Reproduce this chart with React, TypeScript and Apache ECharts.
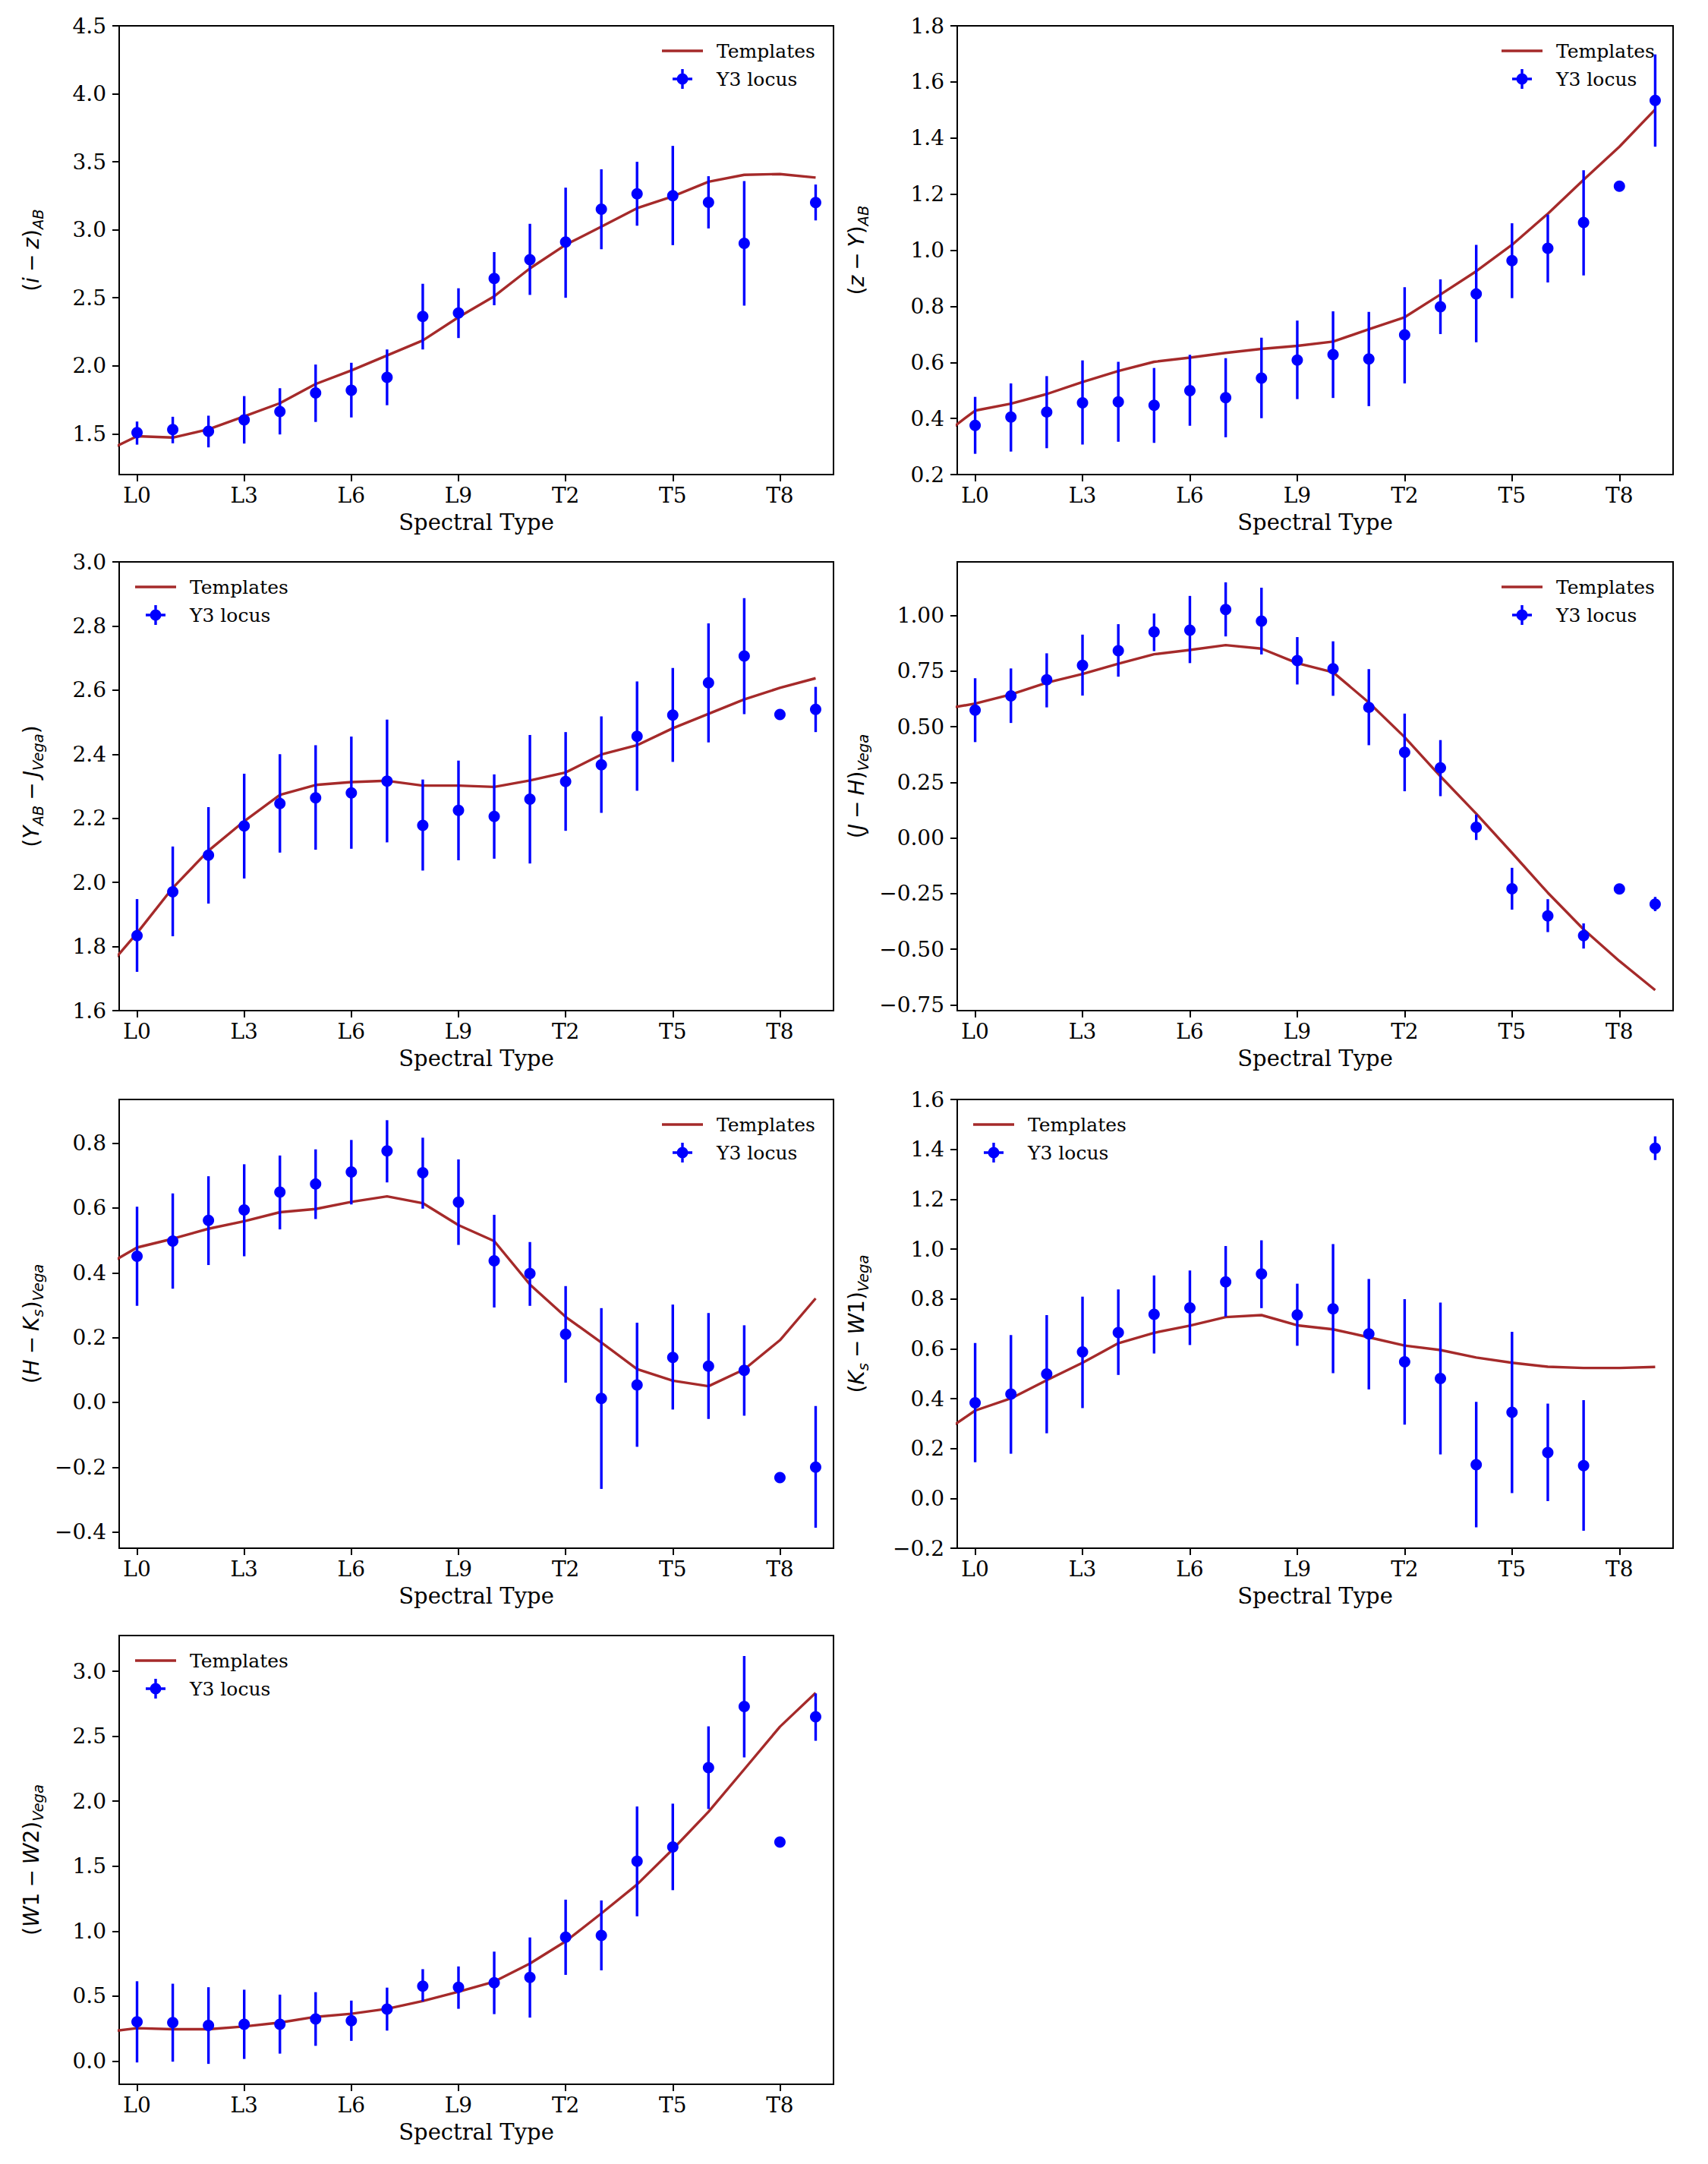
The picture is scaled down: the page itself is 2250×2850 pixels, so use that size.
import { useEffect, useRef } from 'react';
import * as echarts from 'echarts';

// ---------- categories / ticks ----------
const spectralTypes = ['L0', 'L1', 'L2', 'L3', 'L4', 'L5', 'L6', 'L7', 'L8', 'L9',
  'T0', 'T1', 'T2', 'T3', 'T4', 'T5', 'T6', 'T7', 'T8', 'T9'];
const xTickValues = [0, 3, 6, 9, 12, 15, 18];
// template sampling positions (M9 = -1 ... T9 = 19)
const templateX = [-1, 0, 1, 2, 3, 4, 5, 6, 7, 8, 9, 10, 11, 12, 13, 14, 15, 16, 17, 18, 19];

// ---------- (i - z)_AB ----------
const tplIZ = [1.355, 1.482, 1.472, 1.533, 1.628, 1.725, 1.866, 1.966, 2.076, 2.186, 2.357, 2.511, 2.716, 2.890, 3.023, 3.159, 3.246, 3.353, 3.404, 3.410, 3.384];
const locIZ = [1.508, 1.531, 1.518, 1.602, 1.664, 1.800, 1.820, 1.915, 2.363, 2.388, 2.642, 2.780, 2.910, 3.151, 3.264, 3.251, 3.202, 2.900, null, 3.200];
const hiIZ = [1.590, 1.625, 1.633, 1.777, 1.835, 2.009, 2.022, 2.120, 2.603, 2.570, 2.836, 3.044, 3.310, 3.445, 3.500, 3.617, 3.394, 3.358, null, 3.333];
const loIZ = [1.420, 1.430, 1.400, 1.428, 1.495, 1.587, 1.620, 1.710, 2.120, 2.204, 2.445, 2.521, 2.500, 2.857, 3.030, 2.887, 3.010, 2.442, null, 3.069];
const yTicksIZ = [1.5, 2.0, 2.5, 3.0, 3.5, 4.0, 4.5];

// ---------- (z - Y)_AB ----------
const tplZY = [0.332, 0.428, 0.453, 0.487, 0.530, 0.569, 0.602, 0.617, 0.634, 0.648, 0.659, 0.674, 0.718, 0.761, 0.842, 0.925, 1.019, 1.130, 1.251, 1.369, 1.502];
const locZY = [0.375, 0.405, 0.423, 0.456, 0.459, 0.447, 0.499, 0.474, 0.544, 0.608, 0.628, 0.612, 0.698, 0.798, 0.844, 0.963, 1.007, 1.099, 1.228, 1.534];
const hiZY = [0.477, 0.525, 0.551, 0.607, 0.602, 0.580, 0.627, 0.615, 0.688, 0.749, 0.782, 0.780, 0.868, 0.896, 1.019, 1.096, 1.127, 1.285, null, 1.698];
const loZY = [0.274, 0.282, 0.294, 0.307, 0.317, 0.313, 0.374, 0.333, 0.401, 0.469, 0.473, 0.444, 0.525, 0.701, 0.672, 0.829, 0.885, 0.910, null, 1.369];
const yTicksZY = [0.2, 0.4, 0.6, 0.8, 1.0, 1.2, 1.4, 1.6, 1.8];

// ---------- (Y_AB - J_Vega) ----------
const tplYJ = [1.712, 1.842, 1.983, 2.099, 2.191, 2.273, 2.304, 2.313, 2.317, 2.302, 2.302, 2.298, 2.318, 2.343, 2.399, 2.428, 2.481, 2.526, 2.571, 2.607, 2.637];
const locYJ = [1.834, 1.971, 2.085, 2.176, 2.246, 2.264, 2.279, 2.316, 2.178, 2.225, 2.206, 2.260, 2.315, 2.367, 2.456, 2.522, 2.623, 2.706, 2.524, 2.540];
const hiYJ = [1.948, 2.112, 2.235, 2.339, 2.400, 2.428, 2.455, 2.508, 2.321, 2.380, 2.337, 2.460, 2.469, 2.518, 2.627, 2.669, 2.808, 2.887, null, 2.610];
const loYJ = [1.721, 1.832, 1.934, 2.012, 2.093, 2.102, 2.105, 2.125, 2.037, 2.069, 2.074, 2.059, 2.161, 2.217, 2.286, 2.376, 2.437, 2.525, null, 2.469];
const yTicksYJ = [1.6, 1.8, 2.0, 2.2, 2.4, 2.6, 2.8, 3.0];

// ---------- (J - H)_Vega ----------
const tplJH = [0.576, 0.604, 0.645, 0.698, 0.737, 0.783, 0.826, 0.845, 0.867, 0.851, 0.786, 0.745, 0.609, 0.453, 0.277, 0.109, -0.067, -0.246, -0.411, -0.553, -0.684];
const locJH = [0.575, 0.639, 0.711, 0.776, 0.842, 0.926, 0.934, 1.027, 0.975, 0.797, 0.761, 0.587, 0.385, 0.315, 0.048, -0.228, -0.350, -0.439, -0.229, -0.297];
const hiJH = [0.718, 0.762, 0.830, 0.914, 0.961, 1.009, 1.088, 1.149, 1.125, 0.903, 0.884, 0.759, 0.559, 0.440, 0.105, -0.134, -0.275, -0.384, null, -0.265];
const loJH = [0.431, 0.517, 0.587, 0.640, 0.725, 0.840, 0.786, 0.906, 0.825, 0.690, 0.639, 0.417, 0.210, 0.188, -0.009, -0.322, -0.423, -0.497, null, -0.329];
const yTicksJH = [-0.75, -0.5, -0.25, 0.0, 0.25, 0.5, 0.75, 1.0];

// ---------- (H - Ks)_Vega ----------
const tplHK = [0.414, 0.478, 0.505, 0.536, 0.559, 0.587, 0.597, 0.619, 0.636, 0.615, 0.547, 0.498, 0.364, 0.264, 0.185, 0.103, 0.067, 0.050, 0.102, 0.192, 0.321];
const locHK = [0.451, 0.498, 0.562, 0.594, 0.649, 0.674, 0.711, 0.776, 0.709, 0.618, 0.437, 0.398, 0.210, 0.012, 0.054, 0.139, 0.112, 0.099, -0.232, -0.200];
const hiHK = [0.604, 0.645, 0.698, 0.735, 0.762, 0.781, 0.810, 0.871, 0.817, 0.750, 0.579, 0.495, 0.359, 0.291, 0.246, 0.302, 0.276, 0.238, null, -0.011];
const loHK = [0.298, 0.351, 0.424, 0.451, 0.534, 0.566, 0.611, 0.679, 0.598, 0.486, 0.293, 0.298, 0.061, -0.267, -0.137, -0.022, -0.051, -0.041, null, -0.387];
const yTicksHK = [-0.4, -0.2, 0.0, 0.2, 0.4, 0.6, 0.8];

// ---------- (Ks - W1)_Vega ----------
const tplKW = [0.254, 0.352, 0.401, 0.474, 0.544, 0.622, 0.664, 0.693, 0.727, 0.735, 0.694, 0.678, 0.646, 0.613, 0.595, 0.565, 0.544, 0.528, 0.523, 0.523, 0.527];
const locKW = [0.383, 0.418, 0.499, 0.587, 0.665, 0.738, 0.764, 0.868, 0.900, 0.736, 0.760, 0.660, 0.548, 0.481, 0.135, 0.345, 0.184, 0.131, null, 1.404];
const hiKW = [0.623, 0.655, 0.735, 0.809, 0.838, 0.894, 0.914, 1.012, 1.035, 0.861, 1.020, 0.880, 0.799, 0.785, 0.387, 0.668, 0.380, 0.394, null, 1.452];
const loKW = [0.145, 0.179, 0.261, 0.362, 0.495, 0.581, 0.615, 0.729, 0.763, 0.612, 0.502, 0.437, 0.296, 0.176, -0.116, 0.021, -0.011, -0.130, null, 1.357];
const yTicksKW = [-0.2, 0.0, 0.2, 0.4, 0.6, 0.8, 1.0, 1.2, 1.4, 1.6];

// ---------- (W1 - W2)_Vega ----------
const tplWW = [0.219, 0.253, 0.245, 0.245, 0.266, 0.296, 0.340, 0.364, 0.402, 0.462, 0.533, 0.611, 0.750, 0.921, 1.136, 1.359, 1.630, 1.918, 2.245, 2.573, 2.834];
const locWW = [0.302, 0.296, 0.274, 0.283, 0.283, 0.323, 0.310, 0.399, 0.576, 0.568, 0.603, 0.644, 0.954, 0.967, 1.538, 1.647, 2.258, 2.728, 1.685, 2.649];
const hiWW = [0.614, 0.595, 0.568, 0.549, 0.511, 0.530, 0.465, 0.565, 0.707, 0.728, 0.842, 0.951, 1.242, 1.236, 1.959, 1.981, 2.576, 3.117, null, 2.829];
const loWW = [-0.011, -0.005, -0.022, 0.016, 0.057, 0.117, 0.155, 0.234, 0.459, 0.402, 0.361, 0.334, 0.663, 0.698, 1.114, 1.315, 1.940, 2.337, null, 2.465];
const yTicksWW = [0.0, 0.5, 1.0, 1.5, 2.0, 2.5, 3.0];

type Panel = {
  label: string;
  tpl: number[];
  loc: (number | null)[];
  lo: (number | null)[];
  hi: (number | null)[];
  ticks: number[];
  min: number;
  max: number;
  dec: number;
  legendLeftSide: boolean;
};

const M = '\u2005\u2212\u2005'; // math minus with medium spaces

const panels: Panel[] = [
  { label: `{u|(}{i|i}{u|${M}}{i|z}{u|)}{s|AB}`, tpl: tplIZ, loc: locIZ, lo: loIZ, hi: hiIZ, ticks: yTicksIZ, min: 1.2, max: 4.5, dec: 1, legendLeftSide: false },
  { label: `{u|(}{i|z}{u|${M}}{i|Y}{u|)}{s|AB}`, tpl: tplZY, loc: locZY, lo: loZY, hi: hiZY, ticks: yTicksZY, min: 0.2, max: 1.8, dec: 1, legendLeftSide: false },
  { label: `{u|(}{i|Y}{s|AB}{u|${M}}{i|J}{s|Vega}{u|)}`, tpl: tplYJ, loc: locYJ, lo: loYJ, hi: hiYJ, ticks: yTicksYJ, min: 1.6, max: 3.0, dec: 1, legendLeftSide: true },
  { label: `{u|(}{i|J}{u|${M}}{i|H}{u|)}{s|Vega}`, tpl: tplJH, loc: locJH, lo: loJH, hi: hiJH, ticks: yTicksJH, min: -0.776, max: 1.241, dec: 2, legendLeftSide: false },
  { label: `{u|(}{i|H}{u|${M}}{i|K}{s|s}{u|)}{s|Vega}`, tpl: tplHK, loc: locHK, lo: loHK, hi: hiHK, ticks: yTicksHK, min: -0.45, max: 0.935, dec: 1, legendLeftSide: false },
  { label: `{u|(}{i|K}{s|s}{u|${M}}{i|W}{u|1)}{s|Vega}`, tpl: tplKW, loc: locKW, lo: loKW, hi: hiKW, ticks: yTicksKW, min: -0.2, max: 1.6, dec: 1, legendLeftSide: true },
  { label: `{u|(}{i|W}{u|1${M}}{i|W}{u|2)}{s|Vega}`, tpl: tplWW, loc: locWW, lo: loWW, hi: hiWW, ticks: yTicksWW, min: -0.179, max: 3.275, dec: 1, legendLeftSide: true },
];

// ---------- layout ----------
const colLeft = [157, 1261];
const colWidth = [941, 943];
const rowTop = [34, 740, 1448, 2154];
const plotHeight = 591;
const yNameGap = [97, 114];

const TPL_COLOR = '#a52a2a';
const LOC_COLOR = '#0000ff';
const SERIF = 'DejaVu Serif';
const SANS = 'DejaVu Sans';
const FS_TICK = 28;
const FS_NAME = 29;
const FS_LEG = 25;

const fmt = (v: number, dec: number) => {
  const s = Math.abs(v) < 1e-9 ? (0).toFixed(dec) : v.toFixed(dec);
  return s.replace('-', '\u2212');
};

function buildOption() {
  const grid: any[] = [];
  const xAxis: any[] = [];
  const yAxis: any[] = [];
  const series: any[] = [];
  const legend: any[] = [];

  panels.forEach((p, k) => {
    const col = k % 2;
    const row = Math.floor(k / 2);
    const left = colLeft[col];
    const top = rowTop[row];
    const width = colWidth[col];

    grid.push({
      left, top, width, height: plotHeight,
      show: true, borderColor: '#000', borderWidth: 2,
      backgroundColor: 'rgba(0,0,0,0)',
      containLabel: false, outerBoundsMode: 'none',
    });

    xAxis.push({
      type: 'value', gridIndex: k, min: -0.5, max: 19.5,
      axisLine: { show: true, onZero: false, lineStyle: { color: '#000', width: 2 } },
      axisTick: { show: true, length: 9, customValues: xTickValues, lineStyle: { color: '#000', width: 2 } },
      axisLabel: {
        show: true, customValues: xTickValues, margin: 13,
        formatter: (v: number) => spectralTypes[Math.round(v)] ?? '',
        fontFamily: SERIF, fontSize: FS_TICK, color: '#000',
      },
      splitLine: { show: false },
      name: 'Spectral Type', nameLocation: 'middle', nameGap: 48,
      nameTextStyle: { fontFamily: SERIF, fontSize: FS_NAME, color: '#000' },
    });

    yAxis.push({
      type: 'value', gridIndex: k, min: p.min, max: p.max,
      axisLine: { show: true, onZero: false, lineStyle: { color: '#000', width: 2 } },
      axisTick: { show: true, length: 9, customValues: p.ticks, lineStyle: { color: '#000', width: 2 } },
      axisLabel: {
        show: true, customValues: p.ticks, margin: 17,
        formatter: (v: number) => fmt(v, p.dec),
        fontFamily: SERIF, fontSize: FS_TICK, color: '#000',
      },
      splitLine: { show: false },
      name: p.label, nameLocation: 'middle', nameRotate: 90, nameGap: yNameGap[col],
      nameTextStyle: {
        color: '#000', fontFamily: SANS, fontSize: FS_TICK,
        rich: {
          u: { fontFamily: SANS, fontSize: FS_TICK, lineHeight: 38, verticalAlign: 'middle', color: '#000' },
          i: { fontFamily: SANS, fontStyle: 'italic', fontSize: FS_TICK, lineHeight: 38, verticalAlign: 'middle', color: '#000' },
          s: { fontFamily: SANS, fontStyle: 'italic', fontSize: 19.6, lineHeight: 20, verticalAlign: 'bottom', color: '#000' },
        },
      },
    });

    // template curve
    series.push({
      type: 'line', name: 'Templates', xAxisIndex: k, yAxisIndex: k,
      data: templateX.map((x, i) => [x, p.tpl[i]]),
      symbol: 'none', showSymbol: false, clip: true,
      lineStyle: { color: TPL_COLOR, width: 3.4 },
      itemStyle: { color: TPL_COLOR },
      z: 2, silent: true,
    });

    // error bars
    const errData: number[][] = [];
    p.loc.forEach((v, i) => {
      const lo = p.lo[i];
      const hi = p.hi[i];
      if (v !== null && lo !== null && hi !== null) errData.push([i, lo, hi]);
    });
    series.push({
      type: 'custom', name: 'err' + k, xAxisIndex: k, yAxisIndex: k,
      data: errData, encode: { x: 0, y: [1, 2] }, z: 3, silent: true,
      renderItem: (_params: any, api: any) => {
        const x = api.value(0);
        const a = api.coord([x, api.value(1)]);
        const b = api.coord([x, api.value(2)]);
        return {
          type: 'line',
          shape: { x1: a[0], y1: a[1], x2: b[0], y2: b[1] },
          style: { stroke: LOC_COLOR, lineWidth: 3.4 },
        };
      },
    });

    // locus points
    const pts: number[][] = [];
    p.loc.forEach((v, i) => { if (v !== null) pts.push([i, v]); });
    series.push({
      type: 'scatter', name: 'Y3 locus', xAxisIndex: k, yAxisIndex: k,
      data: pts, symbol: 'circle', symbolSize: 15,
      itemStyle: { color: LOC_COLOR, opacity: 1 }, z: 4, silent: true,
    });

    const legendLeft = p.legendLeftSide ? left + 21 : left + width - 226;
    legend.push({
      show: true, orient: 'vertical', left: legendLeft, top: top + 20,
      padding: 0, itemWidth: 54, itemHeight: 26, itemGap: 11,
      symbolKeepAspect: true, selectedMode: false,
      itemStyle: { borderWidth: 0 },
      textStyle: { fontFamily: SERIF, fontSize: FS_LEG, color: '#000', lineHeight: 26, padding: [0, 0, 0, 13] },
      data: [
        { name: 'Templates', icon: 'path://M0,0H54V3.4H0Z', itemStyle: { color: TPL_COLOR, borderWidth: 0 } },
        { name: 'Y3 locus', icon: 'path://M5.5,13A7.5,7.5,0,1,1,20.5,13A7.5,7.5,0,1,1,5.5,13ZM11.3,0H14.7V26H11.3ZM0,11.3H26V14.7H0Z', itemStyle: { color: LOC_COLOR, borderWidth: 0 } },
      ],
    });
  });

  return {
    animation: false,
    backgroundColor: '#ffffff',
    grid, xAxis, yAxis, series, legend,
  };
}

export default function App() {
  const ref = useRef<HTMLDivElement>(null);
  useEffect(() => {
    document.body.style.margin = '0';
    if (!ref.current) return;
    const chart = echarts.init(ref.current, undefined, { renderer: 'svg' });
    chart.setOption(buildOption() as any);
    return () => chart.dispose();
  }, []);
  return (
    <div
      ref={ref}
      style={{ position: 'absolute', left: 0, top: 0, width: 2250, height: 2850, background: '#fff' }}
    />
  );
}
